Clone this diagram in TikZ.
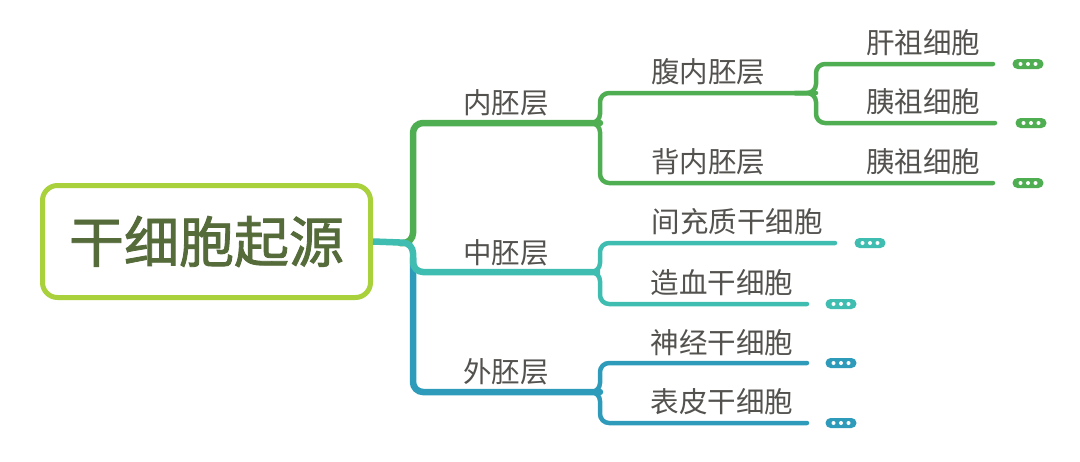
\documentclass[tikz,border=0pt]{standalone}
\usepackage{fontspec}
\newfontfamily\cjk{Noto Sans CJK SC}
\newfontfamily\cjkroot[FakeBold=1.5]{Noto Sans CJK SC}
\definecolor{cgreen}{HTML}{4FAE52}
\definecolor{cteal}{HTML}{40BDB1}
\definecolor{cblue}{HTML}{2E9BBB}
\definecolor{clime}{HTML}{A8D13B}
\definecolor{croot}{HTML}{556B3A}
\definecolor{ctext}{HTML}{54524F}
\newcommand\mypill[3]{%
  \node[pillbox, fill=#3] (#1) at (#2) {};
  \foreach \d in {-7.5,0,7.5} \fill[white] ([xshift=\d pt]#1.center) circle (2pt);}
\begin{document}
\begin{tikzpicture}[x=1pt,y=-1pt,
  rootbox/.style={draw=clime, line width=5pt, rounded corners=15pt, fill=white,
    minimum width=328pt, minimum height=112pt, inner sep=0pt,
    text=croot, font={\cjkroot\fontsize{55}{60}\selectfont}},
  lbl/.style={inner sep=0pt, text=ctext, font={\cjk\fontsize{28.5}{30}\selectfont}},
  lone/.style={line width=6.5pt, line cap=round, rounded corners=10pt},
  ltwo/.style={line width=4.5pt, line cap=round, rounded corners=9pt},
  pillbox/.style={draw=none, minimum width=31pt, minimum height=10pt, inner sep=0pt, rounded corners=5pt}
]
\useasboundingbox (0,0) rectangle (1080,461);

\node[rootbox] (root) at (206.5,241.5) {干细胞起源};

% first level coordinates
\coordinate (j0) at (413,243);
\coordinate (e1) at (600,123);
\coordinate (e2) at (600,272);
\coordinate (e3) at (600,392);

\draw[lone, cgreen] (400,243) -- (413,243) -- (413,123) -- (e1);
\draw[lone, cblue] (413,258) -- (413,392) -- (e3);
\draw[lone, cteal, line cap=butt] (root.east) -- (j0) -- (413,272) -- (e2);

\node[lbl] (n1) at (506,103) {内胚层};
\node[lbl] (n2) at (506,253) {中胚层};
\node[lbl] (n3) at (506,372) {外胚层};

% second level: green
\coordinate (g1) at (816,93);
\coordinate (g1a) at (993,64);
\coordinate (g1b) at (995,123);
\coordinate (g2) at (993,183);
\draw[ltwo, cgreen] (580,123) -- (600,123) -- (600,93) -- (g1);
\draw[ltwo, cgreen] (580,123) -- (600,123) -- (600,183) -- (g2);
\draw[ltwo, cgreen] (795,93) -- (816,93) -- (816,64) -- (g1a);
\draw[ltwo, cgreen] (795,93) -- (816,93) -- (816,123) -- (g1b);

\node[lbl] (m1) at (708,72) {腹内胚层};
\node[lbl] (m2) at (708,162) {背内胚层};
\node[lbl] (k1) at (923,43) {肝祖细胞};
\node[lbl] (k2) at (923,102) {胰祖细胞};
\node[lbl] (k3) at (923,162) {胰祖细胞};

\mypill{p1}{1028,64}{cgreen}
\mypill{p2}{1031,123}{cgreen}
\mypill{p3}{1028,183}{cgreen}

% second level: teal
\coordinate (t1) at (835,243);
\coordinate (t2) at (807,304);
\draw[ltwo, cteal] (580,272) -- (600,272) -- (600,243) -- (t1);
\draw[ltwo, cteal] (580,272) -- (600,272) -- (600,304) -- (t2);
\node[lbl] (m3) at (737,222) {间充质干细胞};
\node[lbl] (m4) at (722,283) {造血干细胞};
\mypill{p4}{870,243}{cteal}
\mypill{p5}{841,304}{cteal}

% second level: blue
\coordinate (b1) at (807,363);
\coordinate (b2) at (807,423);
\draw[ltwo, cblue] (580,392) -- (600,392) -- (600,363) -- (b1);
\draw[ltwo, cblue] (580,392) -- (600,392) -- (600,423) -- (b2);
\node[lbl] (m5) at (722,343) {神经干细胞};
\node[lbl] (m6) at (722,402) {表皮干细胞};
\mypill{p6}{841,363}{cblue}
\mypill{p7}{841,423}{cblue}
\end{tikzpicture}
\end{document}
